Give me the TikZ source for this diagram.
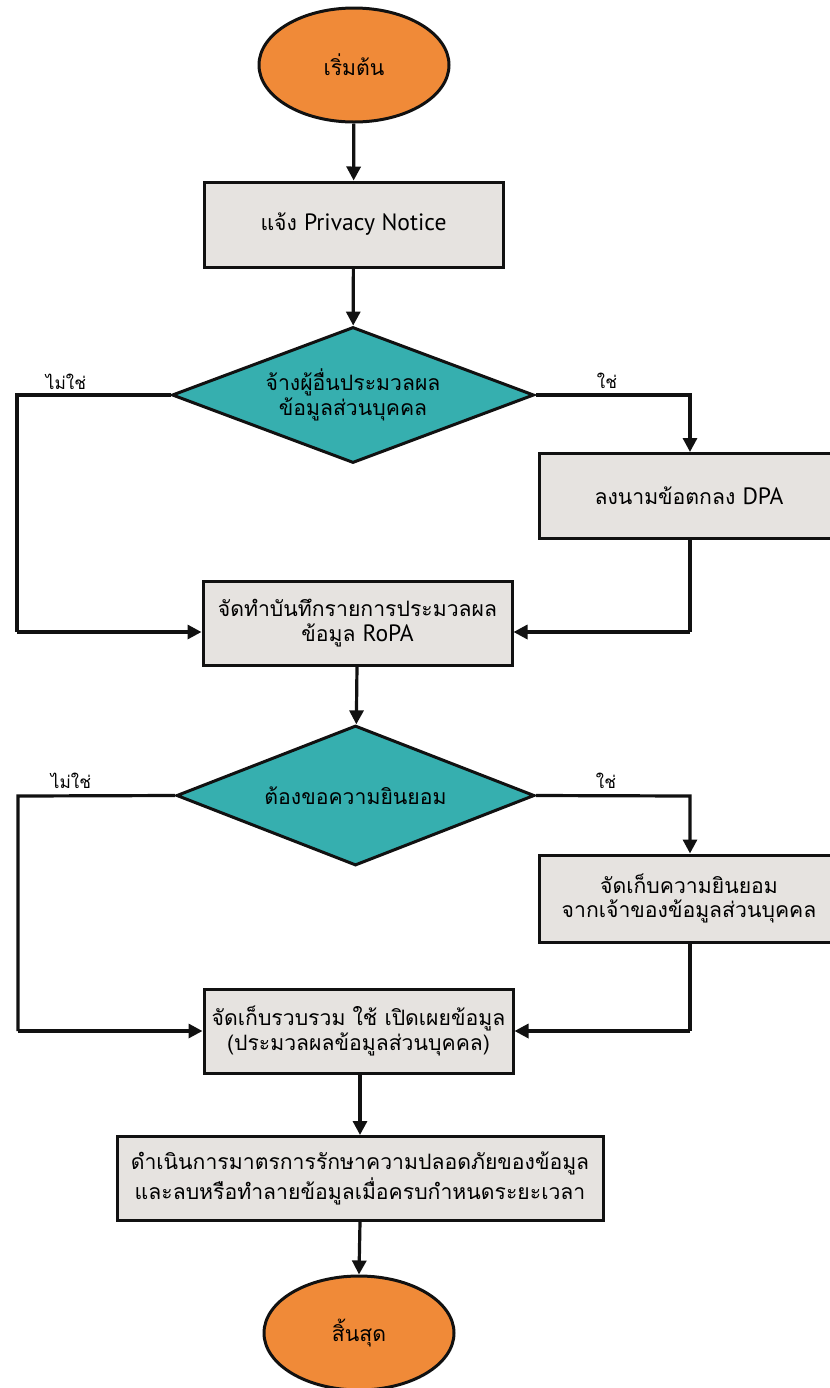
\documentclass[tikz,border=0pt]{standalone}
\usepackage{fontspec}
\setmainfont[Script=Thai]{Loma}
\newfontfamily\latf{PT Sans}
\newcommand{\lt}[1]{{\latf\fontsize{11.8}{12.4}\selectfont #1}}
\usetikzlibrary{arrows.meta,shapes.geometric}
\definecolor{orangeC}{HTML}{F08A38}
\definecolor{tealC}{HTML}{36AFAF}
\definecolor{grayC}{HTML}{E6E3E0}
\definecolor{lineC}{HTML}{111111}
\tikzset{
  terminal/.style={ellipse, draw=lineC, line width=1.5pt, fill=orangeC, minimum width=95pt, minimum height=57pt, inner sep=0pt, font=\fontsize{10.6}{12.4}\selectfont},
  stepbox/.style={draw=lineC, line width=1.5pt, fill=grayC, align=center, font=\fontsize{10.6}{12.4}\selectfont, inner sep=0pt},
  decision/.style={diamond, draw=lineC, line width=1.5pt, fill=tealC, align=center, aspect=2.6, inner sep=0pt, font=\fontsize{10.6}{12.4}\selectfont},
  conn/.style={line width=1.6pt, draw=lineC, -{Triangle[length=7pt,width=7pt]}},
  plain/.style={line width=1.6pt, draw=lineC},
  lbl/.style={font=\fontsize{8.6}{10}\selectfont}
}
\begin{document}
\begin{tikzpicture}[x=0.5pt,y=-0.5pt]
\useasboundingbox (0,0) rectangle (830,1388);
% start
\node[terminal] (start) at (354,65) {เริ่มต้น};
% box1
\node[stepbox, minimum width=149.5pt, minimum height=42.5pt] (notice) at (353.5,224.5) {แจ้ง \lt{Privacy Notice}};
% decision1
\node[decision, minimum width=181pt, minimum height=68pt] (d1) at (353,395) {จ้างผู้อื่นประมวลผล\\ข้อมูลส่วนบุคคล};
\node[lbl] (no1) at (66,382) {ไม่ใช่};
\node[lbl] (yes1) at (607,381) {ใช่};
% DPA
\node[stepbox, minimum width=150pt, minimum height=42.5pt] (dpa) at (689,496) {ลงนามข้อตกลง \lt{DPA}};
% RoPA
\node[stepbox, minimum width=154.5pt, minimum height=42pt] (ropa) at (357.5,623) {จัดทำบันทึกรายการประมวลผล\\ข้อมูล \lt{RoPA}};
% decision2
\node[decision, minimum width=179pt, minimum height=70pt] (d2) at (355.5,795.5) {ต้องขอความยินยอม};
\node[lbl] (no2) at (71,781) {ไม่ใช่};
\node[lbl] (yes2) at (606,781) {ใช่};
% consent
\node[stepbox, minimum width=150pt, minimum height=43.5pt] (consent) at (689,898.5) {จัดเก็บความยินยอม\\จากเจ้าของข้อมูลส่วนบุคคล};
% collect
\node[stepbox, minimum width=154.5pt, minimum height=42pt] (collect) at (358.5,1031) {จัดเก็บรวบรวม ใช้ เปิดเผยข้อมูล\\(ประมวลผลข้อมูลส่วนบุคคล)};
% security
\node[stepbox, minimum width=243pt, minimum height=42pt] (secure) at (360,1178.5) {ดำเนินการมาตรการรักษาความปลอดภัยของข้อมูล\\และลบหรือทำลายข้อมูลเมื่อครบกำหนดระยะเวลา};
% end
\node[terminal] (stop) at (359,1333) {สิ้นสุด};
% coordinates
\coordinate (l1) at (17,395);
\coordinate (l1b) at (17,632);
\coordinate (r1) at (690,395);
\coordinate (r1b) at (690,632);
\coordinate (l2) at (18,796);
\coordinate (l2b) at (18,1031);
\coordinate (r2) at (690,796);
\coordinate (r2b) at (690,1031);
% connectors
\draw[conn] (start) -- (notice);
\draw[conn] (notice) -- (d1);
\draw[plain] (d1.west) -- (l1) -- (l1b);
\draw[conn] (l1b) -- (l1b -| ropa.west);
\draw[conn] (d1.east) -- (r1) -- (dpa.north -| r1);
\draw[plain] (dpa.south -| r1b) -- (r1b);
\draw[conn] (r1b) -- (r1b -| ropa.east);
\draw[conn] (ropa) -- (d2);
\draw[plain] (d2.west) -- (l2) -- (l2b);
\draw[conn] (l2b) -- (l2b -| collect.west);
\draw[conn] (d2.east) -- (r2) -- (consent.north -| r2);
\draw[plain] (consent.south -| r2b) -- (r2b);
\draw[conn] (r2b) -- (r2b -| collect.east);
\draw[conn] (collect.south -| secure.north) -- (secure.north);
\draw[conn] (secure.south) -- (stop.north);
\end{tikzpicture}
\end{document}
